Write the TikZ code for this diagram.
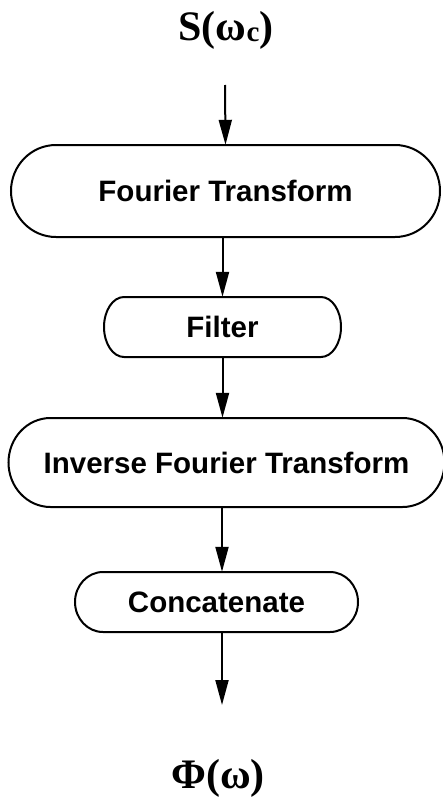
\documentclass[tikz,border=0pt]{standalone}
\usepackage{fontspec}
\setmainfont{Liberation Serif}
\setsansfont{Liberation Sans}
\usetikzlibrary{arrows.meta}
\usetikzlibrary{positioning}
\tikzstyle{normalLine}=[line width=2pt]
\tikzstyle{Arrow}=[normalLine,-{Triangle[length=25pt,width=13pt]}]
\tikzstyle{Box}=[inner sep=0pt,font=\sffamily\bfseries\fontsize{29.5}{30}\selectfont]
\tikzstyle{Title}=[inner sep=0pt,font=\bfseries\fontsize{42}{42}\selectfont]
% capsule outline round a node: node, half flat width, half height, bulge
\newcommand{\capsule}[4]{%
  \draw[normalLine] ([shift={(-#2pt,#3pt)}]#1.center) -- ([shift={(#2pt,#3pt)}]#1.center)
    arc[start angle=90,end angle=-90,x radius=#4pt,y radius=#3pt]
    -- ([shift={(-#2pt,-#3pt)}]#1.center)
    arc[start angle=270,end angle=90,x radius=#4pt,y radius=#3pt] -- cycle;}

\begin{document}
\begin{tikzpicture}[x=1pt,y=-1pt]

  \useasboundingbox (0,0) rectangle (443,803);

  % Signals
  \node[Title] (S) at (226,30) {S(ω\raisebox{-1pt}{\fontsize{29}{29}\selectfont c})};
  \node[Title] (Phi) at (218,778) {Φ(ω)};

  % Blocks
  \node[Box,minimum height=92pt] (FT) at (225.5,191) {Fourier Transform};
  \capsule{FT}{169.5}{46}{45}
  \node[Box,minimum height=60pt] (Filt) at (222.5,327) {Filter};
  \capsule{Filt}{98.5}{30}{20}
  \node[Box,minimum height=89pt] (IFT) at (226.5,462.5) {Inverse Fourier Transform};
  \capsule{IFT}{176}{44.5}{42}
  \node[Box,minimum height=60pt] (Cat) at (216.5,602) {Concatenate};
  \capsule{Cat}{113.5}{30}{28}

  % Arrows
  \coordinate (in) at (225,85);
  \coordinate (out) at (222,705);
  \draw[Arrow] (in) -- (FT.north);
  \draw[Arrow] (FT.south -| Filt.north) -- (Filt.north);
  \draw[Arrow] (Filt.south) -- (Filt.south |- IFT.north);
  \draw[Arrow] (IFT.south -| out) -- (Cat.north -| out);
  \draw[Arrow] (Cat.south -| out) -- (out);

\end{tikzpicture}
\end{document}
